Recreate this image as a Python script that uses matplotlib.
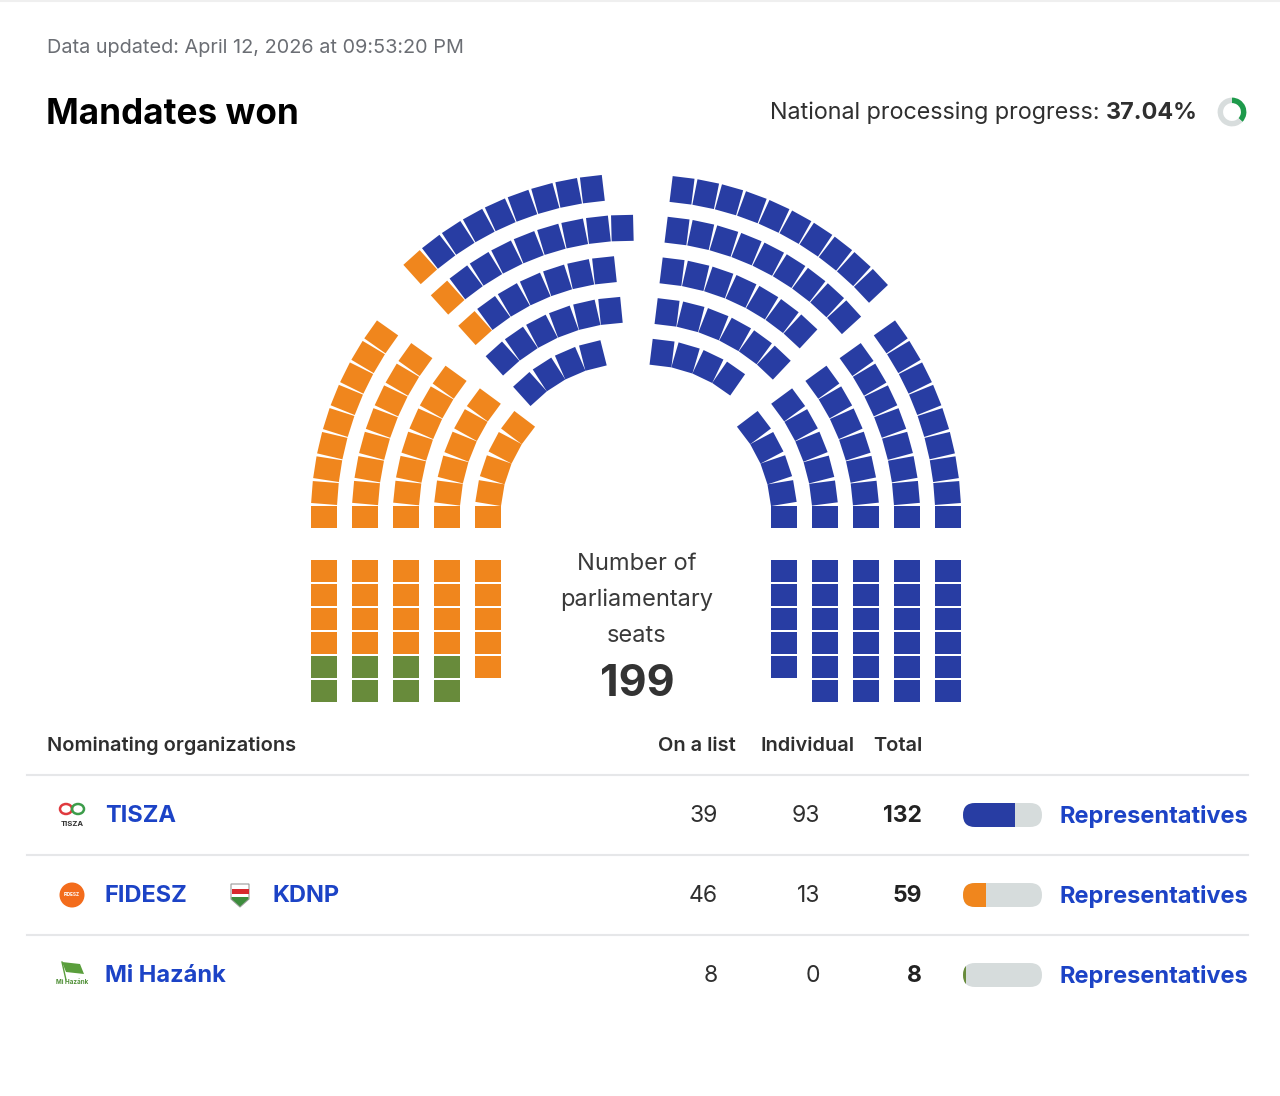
import numpy as np
import matplotlib
matplotlib.use("Agg")
import matplotlib.pyplot as plt
from matplotlib.collections import PolyCollection
from matplotlib.patches import FancyBboxPatch, Circle, Ellipse, Polygon, Rectangle

plt.rcParams["font.family"] = ["Inter", "DejaVu Sans"]

W, H = 1280, 1096

# ---- data ----
PARTIES = ["TISZA", "FIDESZ", "Mi Hazánk"]
ON_LIST = [39, 46, 8]
INDIVIDUAL = [93, 13, 0]
TOTAL = [132, 59, 8]
PARTY_COLORS = ["#283da3", "#f0861d", "#688b3b"]
FILL_ORDER = [2, 1, 0]          # seats are filled left -> right in this party order
TOTAL_SEATS = 199
PROGRESS = 37.04
UPDATED = "April 12, 2026 at 09:53:20 PM"

# seats per row (outer -> inner) in each sector of the hemicycle
ROWS_LOWER_LEFT = [9, 8, 7, 6, 5]
ROWS_UPPER_LEFT = [9, 9, 7, 6, 4]
ROWS_UPPER_RIGHT = [10, 9, 7, 6, 4]
ROWS_LOWER_RIGHT = [9, 8, 7, 6, 5]
# seats per column (outer -> inner) in the two straight blocks
BLOCK_LEFT = [6, 6, 6, 6, 5]
BLOCK_RIGHT = [6, 6, 6, 6, 5]

# ---- layout ----
CX, CY = 636, 517
RADII = [312 - 41 * i for i in range(5)]
SEAT_RAD, SEAT_TAN, PITCH = 26, 22, 24
BLOCK_TOP = 571

BLUE_TXT = "#1c43c6"
DARK = "#2f2f2f"


def seat_poly(cx, cy, r, ang):
    a = np.radians(ang)
    p = np.array([cx + r * np.cos(a), cy - r * np.sin(a)])
    u = np.array([np.cos(a), -np.sin(a)]) * SEAT_RAD / 2
    t = np.array([np.sin(a), np.cos(a)]) * SEAT_TAN / 2
    return [p - u - t, p + u - t, p + u + t, p - u + t]


def box_poly(x, y):
    return [(x - SEAT_RAD / 2, y - SEAT_TAN / 2), (x + SEAT_RAD / 2, y - SEAT_TAN / 2),
            (x + SEAT_RAD / 2, y + SEAT_TAN / 2), (x - SEAT_RAD / 2, y + SEAT_TAN / 2)]


def arc_seats(rows, cx, cy, start=None, end=None):
    items = []
    for i, n in enumerate(rows):
        step = np.degrees(PITCH / RADII[i])
        for j in range(n):
            ang = start - j * step if start is not None else end + (n - 1 - j) * step
            items.append(((j, i), seat_poly(cx, cy, RADII[i], ang)))
    items.sort(key=lambda s: s[0])
    return [p for _, p in items]


seats = []
# left block: bottom row first, outer -> inner
for k in range(5, -1, -1):
    for i, n in enumerate(BLOCK_LEFT):
        if k < n:
            seats.append(box_poly(CX - RADII[i], BLOCK_TOP + PITCH * k))
seats += arc_seats(ROWS_LOWER_LEFT, CX, CY, start=180)
seats += arc_seats(ROWS_UPPER_LEFT, 629, 499, start=132)
seats += arc_seats(ROWS_UPPER_RIGHT, 644, 500, start=83)
seats += arc_seats(ROWS_LOWER_RIGHT, CX, CY, end=0)
for k in range(6):
    for i in range(4, -1, -1):
        if k < BLOCK_RIGHT[i]:
            seats.append(box_poly(CX + RADII[i], BLOCK_TOP + PITCH * k))

colors = []
for p in FILL_ORDER:
    colors += [PARTY_COLORS[p]] * TOTAL[p]

fig = plt.figure(figsize=(W / 100, H / 100), dpi=100)
ax = fig.add_axes([0, 0, 1, 1])
ax.set_xlim(0, W)
ax.set_ylim(H, 0)
ax.axis("off")
fig.patch.set_facecolor("white")
renderer = fig.canvas.get_renderer()

ax.add_collection(PolyCollection(seats, facecolors=colors[:len(seats)], edgecolors="none"))

# ---- header ----
ax.plot([0, W], [1, 1], color="#efefef", lw=1.5)
ax.text(47, 48, f"Data updated: {UPDATED}", fontsize=14.3, color="#6b6e74", va="center")
ax.text(46, 114, "Mandates won", fontsize=25.3, fontweight="bold", color="black", va="center")
t_pct = ax.text(1198, 113, f"{PROGRESS:.2f}%", fontsize=16.8, fontweight="bold", color=DARK,
                va="center", ha="right")
wpct = t_pct.get_window_extent(renderer).width
ax.text(1198 - wpct, 113, "National processing progress: ", fontsize=16.8, color=DARK,
        va="center", ha="right")

dax = fig.add_axes([(1232 - 18) / W, 1 - (112 + 18) / H, 36 / W, 36 / H])
dax.pie([PROGRESS, 100 - PROGRESS], colors=["#1e9a4b", "#d8dddd"], startangle=90,
        counterclock=False, wedgeprops=dict(width=0.38))
dax.set_aspect("equal")

# ---- centre label ----
for k, line in enumerate(["Number of", "parliamentary", "seats"]):
    ax.text(637, 564 + 36 * k, line, fontsize=17, color="#3a3a3a", ha="center", va="center")
ax.text(637, 685, str(TOTAL_SEATS), fontsize=31, fontweight="bold", color="#333333",
        ha="center", va="center")

# ---- table ----
ax.text(47, 746, "Nominating organizations", fontsize=14.4, fontweight="semibold", color=DARK,
        va="center")
for x, lab in [(697, "On a list"), (807, "Individual"), (898, "Total")]:
    ax.text(x, 746, lab, fontsize=14.4, fontweight="semibold", color=DARK, va="center", ha="center")

for y in [775, 855, 935]:
    ax.plot([27, 1248], [y, y], color="#e6e7e9", lw=1.5)

ROW_Y = [816, 896, 976]
for r, y in enumerate(ROW_Y):
    ax.text(105, y, PARTIES[r], fontsize=17, fontweight="bold", color=BLUE_TXT, va="center")
    ax.text(718, y, str(ON_LIST[r]), fontsize=16.5, color=DARK, va="center", ha="right")
    ax.text(820, y, str(INDIVIDUAL[r]), fontsize=16.5, color=DARK, va="center", ha="right")
    ax.text(922, y, str(TOTAL[r]), fontsize=16.5, fontweight="bold", color="#222222",
            va="center", ha="right")
    yb = y - 1
    pill = FancyBboxPatch((963, yb - 12), 79, 24, boxstyle="round,pad=0,rounding_size=12",
                          fc="#d6dcdc", ec="none")
    ax.add_patch(pill)
    bars = ax.barh([yb], [TOTAL[r] / TOTAL_SEATS * 79], left=963, height=24,
                   color=PARTY_COLORS[r])
    for b in bars:
        b.set_clip_path(pill)
    ax.text(1248, y, "Representatives", fontsize=17, fontweight="bold", color=BLUE_TXT,
            va="center", ha="right")

ax.text(272, ROW_Y[1], "KDNP", fontsize=17, fontweight="bold", color=BLUE_TXT, va="center")

# ---- simplified party logos ----
ax.add_patch(Ellipse((66, 809), 12, 10, fill=False, ec="#e0393e", lw=1.8))
ax.add_patch(Ellipse((78, 809), 12, 10, fill=False, ec="#3c9c4a", lw=1.8))
ax.text(72, 824, "TISZA", fontsize=5.5, fontweight="bold", color="#333333", ha="center", va="center")

ax.add_patch(Circle((72, 895), 12.5, fc="#f36c1c", ec="none"))
ax.text(72, 895, "FIDESZ", fontsize=3.3, fontweight="bold", color="white", ha="center", va="center")

ax.add_patch(Polygon([(231, 884), (249, 884), (249, 899), (240, 907), (231, 899)],
                     closed=True, fc="white", ec="#9a9a9a", lw=0.8))
ax.add_patch(Rectangle((231.5, 889), 17, 5, fc="#d8282e", ec="none"))
ax.add_patch(Polygon([(231.5, 897), (248.5, 897), (248.5, 899), (240, 906.5), (231.5, 899)],
                     closed=True, fc="#3d8c3d", ec="none"))

ax.add_patch(Polygon([(62, 962), (80, 964), (84, 974), (66, 972)], closed=True,
                     fc="#5a9e3c", ec="none"))
ax.plot([62, 66], [962, 980], color="#5a9e3c", lw=1)
ax.text(72, 982, "Mi Hazánk", fontsize=4.5, fontweight="bold", color="#4f8f36",
        ha="center", va="center")

fig.savefig("out.png", dpi=100, facecolor="white")
